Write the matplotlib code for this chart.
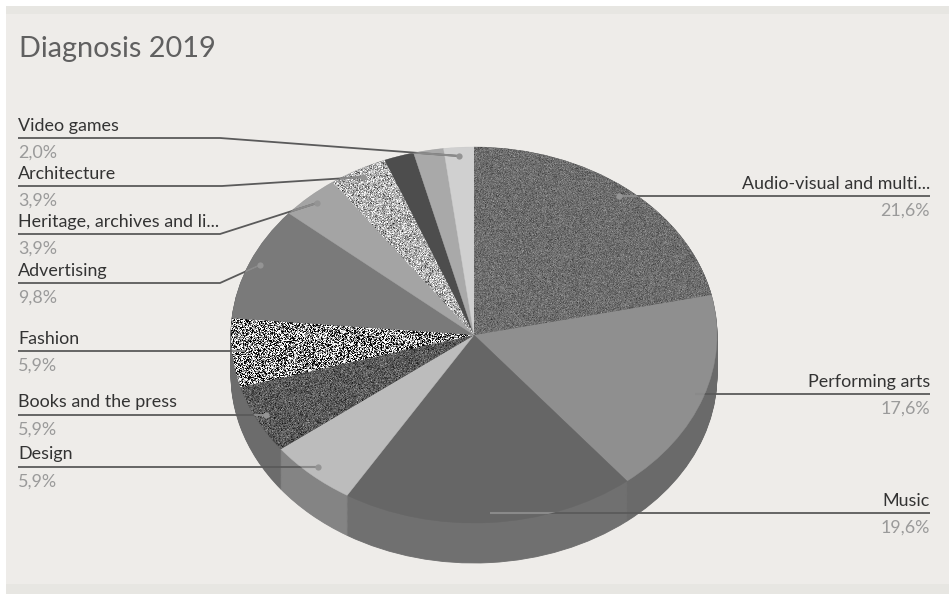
import numpy as np
import matplotlib
matplotlib.use("Agg")
import matplotlib.pyplot as plt
from matplotlib.patches import Rectangle, Ellipse

plt.rcParams["font.family"] = ["Lato", "DejaVu Sans"]

TITLE = "Diagnosis 2019"
categories = ["Audio-visual and multi...", "Performing arts", "Music", "Design",
              "Books and the press", "Fashion", "Advertising",
              "Heritage, archives and li...", "Architecture", "Video games", "", ""]
shares = [21.6, 17.6, 19.6, 5.9, 5.9, 5.9, 9.8, 3.9, 3.9, 2.0, 2.0, 2.0]
share_labels = ["21,6%", "17,6%", "19,6%", "5,9%", "5,9%", "5,9%", "9,8%",
                "3,9%", "3,9%", "2,0%", "", ""]

top_colors = ["#6d6d6d", "#8f8f8f", "#666666", "#bcbcbc", "#5a5a5a", "#8a8a8a",
              "#7a7a7a", "#a4a4a4", "#b0b0b0", "#4d4d4d", "#a9a9a9", "#d0d0d0"]
side_colors = ["#5a5a5a", "#6a6a6a", "#707070", "#848484", "#6c6c6c", "#6c6c6c",
               "#666666", "#888888", "#888888", "#444444", "#888888", "#a0a0a0"]

# slice index -> contrast of the speckled fill
speckled = {0: 15, 4: 24, 5: 150, 8: 46}

# Leader routes in pixels: text side x, underline y, elbow x, end point, has a dot
leaders = [
    (930, 196, 640, (619, 196), True),
    (930, 394, 930, (695, 394), False),
    (930, 513, 640, (490, 513), False),
    (18, 466.5, 18, (318, 466.5), True),
    (18, 414.5, 18, (266, 414.5), True),
    (18, 351, 18, (245, 351), False),
    (18, 283, 220, (260, 265), True),
    (18, 234, 220, (317, 203), True),
    (18, 186, 222, (363, 177), True),
    (18, 138, 220, (459, 156), True),
]

W, H = 949, 594
CX, CY, RX, RY, DEPTH = 474, 335, 243, 188, 40

fig = plt.figure(figsize=(W / 100, H / 100), dpi=100, facecolor="white")

# Panel behind the chart
bg = fig.add_axes([0, 0, 1, 1], zorder=0)
bg.set_xlim(0, W)
bg.set_ylim(H, 0)
bg.axis("off")
bg.add_patch(Rectangle((6, 6), W - 6, H - 6, color="#e7e6e2", lw=0))
bg.add_patch(Rectangle((6, 14), W - 6, 570, color="#eeecE9", lw=0))

# Pie axes: unequal aspect turns the circle into the tilted ellipse
d = DEPTH / RY
pie_ax = fig.add_axes([(CX - RX) / W, (H - CY - RY - DEPTH) / H,
                       2 * RX / W, (2 * RY + DEPTH) / H], zorder=1)


def draw_layer(colors, offset, edge_width):
    layer, _ = pie_ax.pie(shares, colors=colors, startangle=90, counterclock=False,
                          center=(0, -offset), radius=1)
    for w in layer:
        w.set_edgecolor(w.get_facecolor())
        w.set_linewidth(edge_width)
    return layer


# Extruded rim, built up from the lowest layer
for off in np.linspace(d, 0.004, 45):
    draw_layer(side_colors, off, 0.6)

wedges = draw_layer(top_colors, 0, 0.3)

# Speckled fills clipped to their slices
rng = np.random.default_rng(7)
gh, gw = int(2 * RY), int(2 * RX)
for idx, amp in speckled.items():
    base = int(top_colors[idx][1:3], 16)
    noise = rng.normal(0, 1, (gh, gw))
    tex = np.clip(base + amp * noise, 0, 255) / 255
    im = pie_ax.imshow(tex, extent=(-1, 1, -1, 1), cmap="gray", vmin=0, vmax=1,
                       aspect="auto", interpolation="nearest", zorder=3)
    im.set_clip_path(wedges[idx])

pie_ax.set_aspect("auto")
pie_ax.set_xlim(-1, 1)
pie_ax.set_ylim(-1 - d, 1)
pie_ax.axis("off")

# Overlay for the title, labels and leaders, in pixel coordinates
ov = fig.add_axes([0, 0, 1, 1], zorder=2)
ov.set_xlim(0, W)
ov.set_ylim(H, 0)
ov.axis("off")
ov.patch.set_alpha(0)

ov.text(19, 49, TITLE, fontsize=20.8, color="#606060", va="center", ha="left")

LINE = "#5a5a5a"
LINE_ON_PIE = "#8a8a8a"
top_face = Ellipse((CX, CY), 2 * RX, 2 * RY, transform=ov.transData)

for i, (x0, y, xe, end, dot) in enumerate(leaders):
    xs = [x0, xe, end[0]]
    ys = [y, y, end[1]]
    ov.plot(xs, ys, color=LINE, lw=1.3, solid_capstyle="butt", solid_joinstyle="round")
    # The part crossing the pie face stays faint
    over, = ov.plot(xs, ys, color=LINE_ON_PIE, lw=1.5, solid_capstyle="butt")
    over.set_clip_path(top_face)
    if dot:
        ov.plot(*end, "o", ms=4.5, color="#949494", mew=0)
    ha = "right" if x0 > 500 else "left"
    ov.text(x0, y - 4, categories[i], fontsize=12.9, color="#333333", ha=ha, va="bottom")
    ov.text(x0, y + 7, share_labels[i], fontsize=12.9, color="#9a9a9a", ha=ha, va="top")

fig.savefig("out.png", dpi=100, facecolor="white")
